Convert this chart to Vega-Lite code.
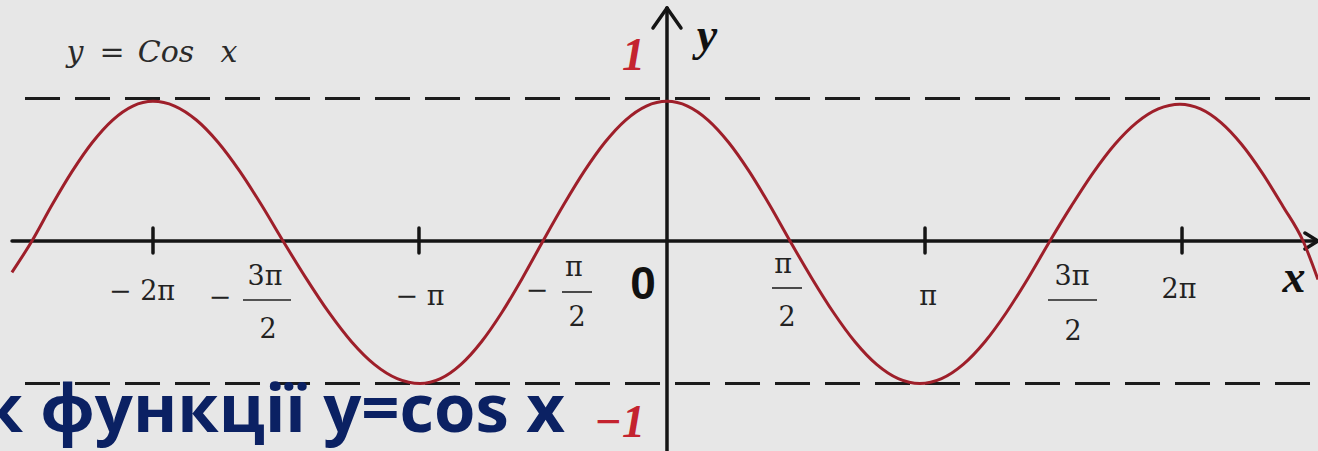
{
  "$schema": "https://vega.github.io/schema/vega-lite/v6.json",
  "width": 1318,
  "height": 451,
  "padding": 0,
  "autosize": {"type": "fit", "contains": "padding"},
  "background": "#e7e7e7",
  "config": {"view": {"stroke": null}},
  "datasets": {
    "curve": [
      {"x": -2.549, "y": -0.22}, {"x": -2.471, "y": 0}, {"x": -2.3925, "y": 0.254}, {"x": -2.314, "y": 0.49},
      {"x": -2.2355, "y": 0.693}, {"x": -2.157, "y": 0.849}, {"x": -2.0785, "y": 0.947}, {"x": -2.0, "y": 0.98},
      {"x": -1.9157, "y": 0.947}, {"x": -1.8313, "y": 0.849}, {"x": -1.747, "y": 0.693}, {"x": -1.6627, "y": 0.49},
      {"x": -1.5783, "y": 0.254}, {"x": -1.494, "y": 0},
      {"x": -1.4052, "y": -0.259}, {"x": -1.3163, "y": -0.5}, {"x": -1.2275, "y": -0.707}, {"x": -1.1387, "y": -0.866},
      {"x": -1.0498, "y": -0.966}, {"x": -0.961, "y": -1},
      {"x": -0.8813, "y": -0.966}, {"x": -0.8015, "y": -0.866}, {"x": -0.7218, "y": -0.707}, {"x": -0.642, "y": -0.5},
      {"x": -0.5623, "y": -0.259}, {"x": -0.4825, "y": 0},
      {"x": -0.4021, "y": 0.254}, {"x": -0.3217, "y": 0.49}, {"x": -0.2413, "y": 0.693}, {"x": -0.1608, "y": 0.849},
      {"x": -0.0804, "y": 0.947}, {"x": 0, "y": 0.98},
      {"x": 0.0798, "y": 0.947}, {"x": 0.1595, "y": 0.849}, {"x": 0.2393, "y": 0.693}, {"x": 0.3191, "y": 0.49},
      {"x": 0.3988, "y": 0.254}, {"x": 0.4786, "y": 0},
      {"x": 0.5628, "y": -0.259}, {"x": 0.6471, "y": -0.5}, {"x": 0.7313, "y": -0.707}, {"x": 0.8155, "y": -0.866},
      {"x": 0.8998, "y": -0.966}, {"x": 0.984, "y": -1},
      {"x": 1.0683, "y": -0.966}, {"x": 1.1527, "y": -0.866}, {"x": 1.237, "y": -0.707}, {"x": 1.3213, "y": -0.5},
      {"x": 1.4057, "y": -0.259}, {"x": 1.49, "y": 0},
      {"x": 1.5743, "y": 0.248}, {"x": 1.6587, "y": 0.48}, {"x": 1.743, "y": 0.679}, {"x": 1.8273, "y": 0.831},
      {"x": 1.9117, "y": 0.927}, {"x": 1.996, "y": 0.96},
      {"x": 2.0758, "y": 0.927}, {"x": 2.1557, "y": 0.831}, {"x": 2.2355, "y": 0.679}, {"x": 2.3153, "y": 0.48},
      {"x": 2.3952, "y": 0.248}, {"x": 2.475, "y": 0}, {"x": 2.533, "y": -0.27}
    ],
    "bounds": [
      {"x": -2.498, "x2": 2.533, "y": 1, "y2": 1},
      {"x": -2.498, "x2": 2.533, "y": -1, "y2": -1}
    ],
    "axes": [
      {"x": -2.5486, "x2": 2.533, "y": 0, "y2": 0},
      {"x": 0, "x2": 0, "y": -1.4737, "y2": 1.635},
      {"x": 0, "x2": -0.0545, "y": 1.635, "y2": 1.495},
      {"x": 0, "x2": 0.0545, "y": 1.635, "y2": 1.495},
      {"x": 2.533, "x2": 2.4825, "y": 0, "y2": 0.0561},
      {"x": 2.533, "x2": 2.4825, "y": 0, "y2": -0.0561},
      {"x": -2.0, "x2": -2.0, "y": 0.0912, "y2": -0.0842},
      {"x": -0.965, "x2": -0.965, "y": 0.0912, "y2": -0.0842},
      {"x": 1.004, "x2": 1.004, "y": 0.0912, "y2": -0.0842},
      {"x": 2.004, "x2": 2.004, "y": 0.0912, "y2": -0.0842}
    ],
    "fractionBars": [
      {"x": -1.6498, "x2": -1.463, "y": -0.414, "y2": -0.414},
      {"x": -0.4086, "x2": -0.2918, "y": -0.3579, "y2": -0.3579},
      {"x": 0.4086, "x2": 0.5253, "y": -0.3298, "y2": -0.3298},
      {"x": 1.4825, "x2": 1.6732, "y": -0.414, "y2": -0.414}
    ],
    "tickLabels": [
      {"x": -2.0428, "y": -0.3579, "label": "− 2π"},
      {"x": -1.7393, "y": -0.4, "label": "−"},
      {"x": -1.5642, "y": -0.2526, "label": "3π"},
      {"x": -1.5525, "y": -0.6246, "label": "2"},
      {"x": -0.9611, "y": -0.393, "label": "− π"},
      {"x": -0.5058, "y": -0.3509, "label": "−"},
      {"x": -0.3619, "y": -0.1895, "label": "π"},
      {"x": -0.3502, "y": -0.5404, "label": "2"},
      {"x": 0.4514, "y": -0.1684, "label": "π"},
      {"x": 0.4669, "y": -0.5404, "label": "2"},
      {"x": 1.0156, "y": -0.393, "label": "π"},
      {"x": 1.5759, "y": -0.2526, "label": "3π"},
      {"x": 1.5798, "y": -0.6386, "label": "2"},
      {"x": 1.9922, "y": -0.3439, "label": "2π"}
    ],
    "origin": [{"x": -0.0934, "y": -0.3088, "label": "0"}],
    "axisNames": [
      {"x": 0.1556, "y": 1.3404, "label": "y"},
      {"x": 2.4397, "y": -0.3579, "label": "x"}
    ],
    "formula": [
      {"x": -2.3035, "y": 1.2561, "label": "y"},
      {"x": -2.1595, "y": 1.2561, "label": "="},
      {"x": -1.9494, "y": 1.2561, "label": "Cos"},
      {"x": -1.7043, "y": 1.2561, "label": "x"}
    ],
    "levels": [
      {"x": -0.0856, "y": 1.2, "label": "1"},
      {"x": -0.0856, "y": -1.3754, "label": "−1"}
    ],
    "heading": [{"x": -0.3969, "y": -1.3404, "label": "Графік функції y=cos x"}]
  },
  "encoding": {
    "x": {"field": "x", "type": "quantitative", "axis": null,
          "scale": {"domain": [-2.5953, 2.5331], "nice": false, "zero": false}},
    "y": {"field": "y", "type": "quantitative", "axis": null,
          "scale": {"domain": [-1.4737, 1.6912], "nice": false, "zero": false}}
  },
  "layer": [
    {
      "data": {"name": "bounds"},
      "mark": {"type": "rule", "color": "#1c1c1c", "strokeWidth": 3, "strokeDash": [35, 15], "clip": true},
      "encoding": {"x2": {"field": "x2"}, "y2": {"field": "y2"}}
    },
    {
      "data": {"name": "axes"},
      "mark": {"type": "rule", "color": "#151515", "strokeWidth": 3.5, "strokeCap": "round", "clip": true},
      "encoding": {"x2": {"field": "x2"}, "y2": {"field": "y2"}}
    },
    {
      "data": {"name": "fractionBars"},
      "mark": {"type": "rule", "color": "#222222", "strokeWidth": 1.6},
      "encoding": {"x2": {"field": "x2"}, "y2": {"field": "y2"}}
    },
    {
      "data": {"name": "curve"},
      "mark": {"type": "line", "color": "#9e1f2a", "strokeWidth": 3, "interpolate": "monotone", "clip": true},
      "encoding": {"order": {"field": "x", "type": "quantitative"}}
    },
    {
      "data": {"name": "tickLabels"},
      "mark": {"type": "text", "font": "DejaVu Serif", "fontSize": 27, "color": "#222222",
               "align": "center", "baseline": "middle"},
      "encoding": {"text": {"field": "label"}}
    },
    {
      "data": {"name": "origin"},
      "mark": {"type": "text", "font": "Liberation Sans", "fontWeight": "bold", "fontSize": 46, "color": "#111111",
               "align": "center", "baseline": "middle"},
      "encoding": {"text": {"field": "label"}}
    },
    {
      "data": {"name": "axisNames"},
      "mark": {"type": "text", "font": "Liberation Serif", "fontWeight": "bold", "fontStyle": "italic",
               "fontSize": 46, "color": "#111111", "align": "center", "baseline": "alphabetic"},
      "encoding": {"text": {"field": "label"}}
    },
    {
      "data": {"name": "formula"},
      "mark": {"type": "text", "font": "DejaVu Serif", "fontStyle": "italic", "fontSize": 30, "color": "#2a2a2a",
               "align": "center", "baseline": "alphabetic"},
      "encoding": {"text": {"field": "label"}}
    },
    {
      "data": {"name": "levels"},
      "mark": {"type": "text", "font": "Liberation Serif", "fontWeight": "bold", "fontStyle": "italic",
               "fontSize": 46, "color": "#c4232f", "align": "right", "baseline": "alphabetic"},
      "encoding": {"text": {"field": "label"}}
    },
    {
      "data": {"name": "heading"},
      "mark": {"type": "text", "font": "Open Sans", "fontWeight": "bold", "fontSize": 67, "color": "#0b2163",
               "align": "right", "baseline": "alphabetic", "clip": true},
      "encoding": {"text": {"field": "label"}}
    }
  ]
}
